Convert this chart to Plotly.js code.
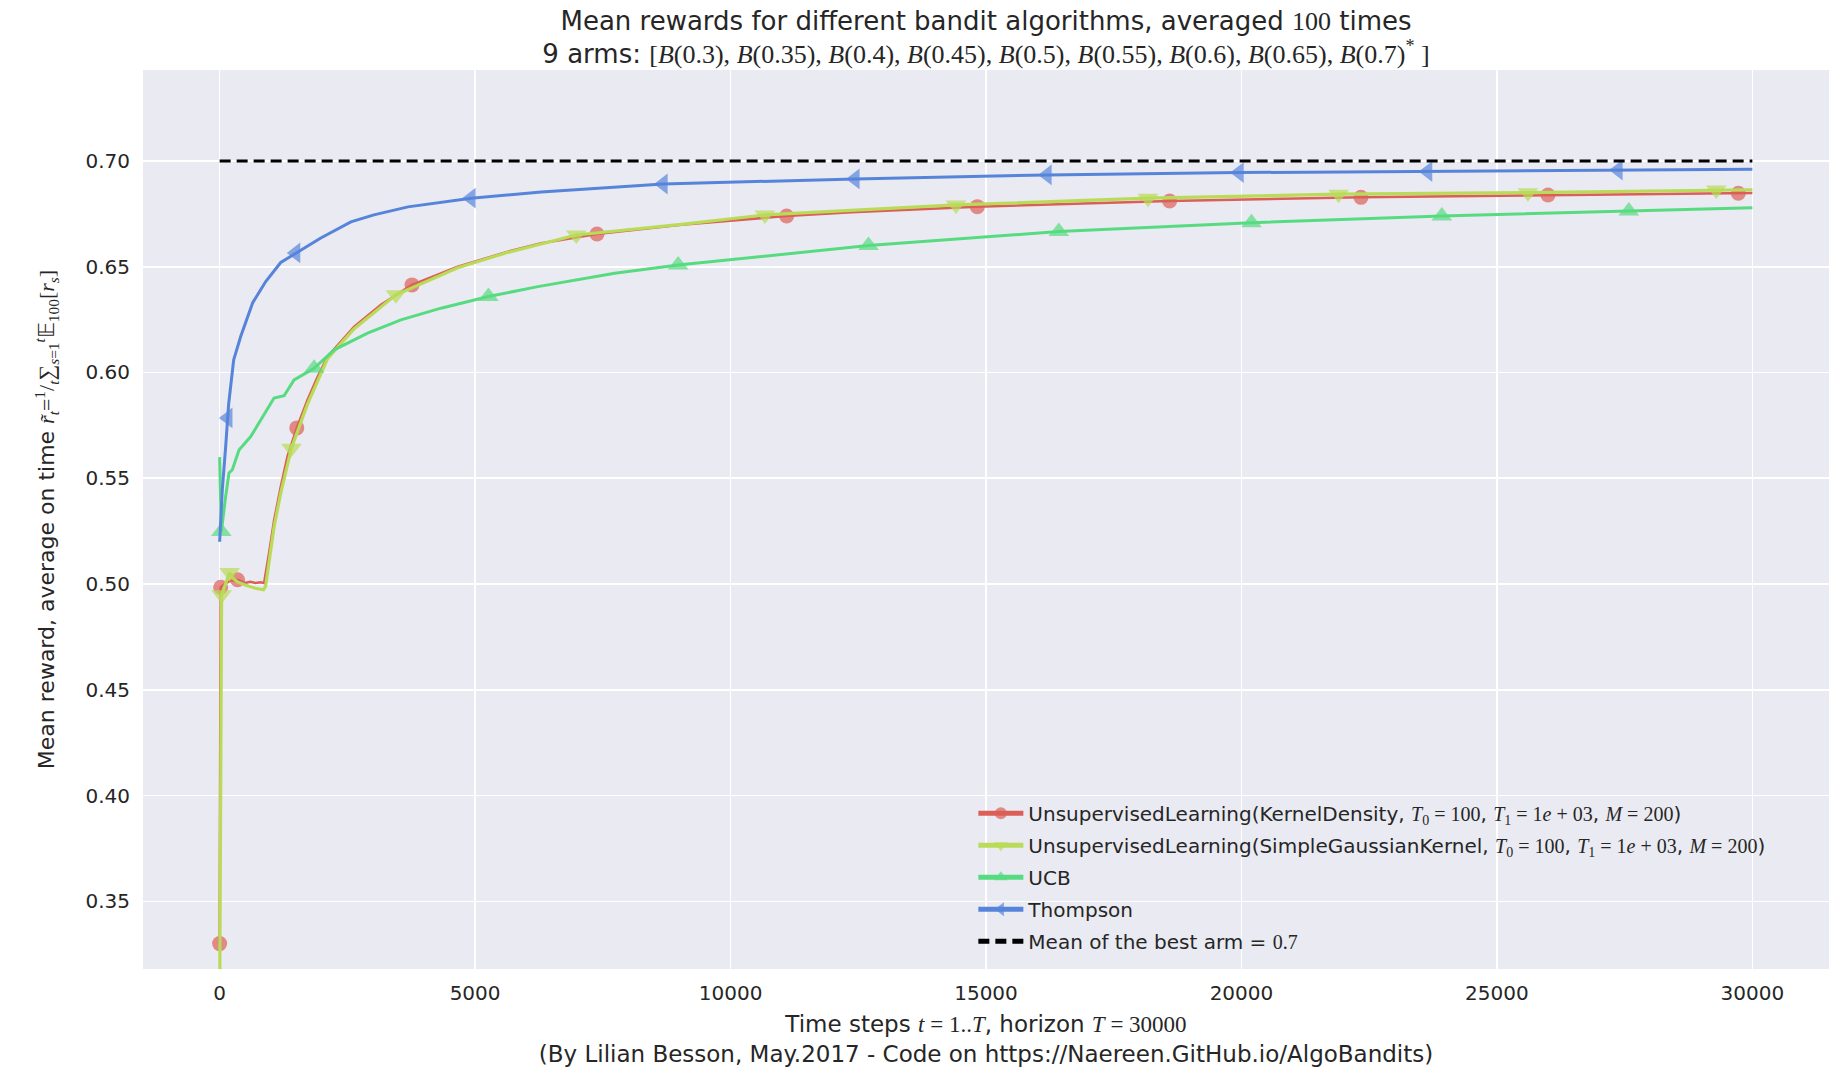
<!DOCTYPE html>
<html>
<head>
<meta charset="utf-8">
<script src="https://cdn.plot.ly/plotly-3.0.1.min.js"></script>
<style>html,body{margin:0;padding:0;background:#fff;}#chart{width:1841px;height:1076px;}</style>
</head>
<body>
<div id="chart"></div>
<script>
// ---- Data ----
// UnsupervisedLearning(KernelDensity)
const kdX = [0, 20, 100, 200, 350, 500, 600, 700, 800, 870, 970, 1065, 1196, 1327, 1510, 1719, 1900, 2111, 2634, 3157, 3765, 4660, 5641, 6294, 7386, 9039, 11098, 12373, 14830, 18594, 22339, 26000, 29725, 30000];
const kdY = [0.330, 0.4985, 0.500, 0.5015, 0.502, 0.5005, 0.501, 0.5005, 0.5008, 0.5005, 0.515, 0.530, 0.546, 0.5603, 0.5738, 0.587, 0.597, 0.6075, 0.6217, 0.632, 0.6414, 0.650, 0.6571, 0.6611, 0.6655, 0.6698, 0.674, 0.6758, 0.6784, 0.6811, 0.6828, 0.6839, 0.6847, 0.6849];
const kdMarkX = [0, 20, 350, 1510, 3765, 7386, 11098, 14830, 18594, 22339, 26000, 29725];

// UnsupervisedLearning(SimpleGaussianKernel)
const sgX = [0, 39, 196, 250, 350, 500, 700, 860, 900, 970, 1065, 1196, 1405, 1719, 1900, 2111, 2634, 3451, 4660, 5641, 6980, 9039, 10673, 12373, 14412, 18170, 21902, 25608, 29294, 30000];
const sgY = [0.300, 0.4949, 0.5054, 0.503, 0.501, 0.4995, 0.498, 0.4973, 0.499, 0.512, 0.527, 0.543, 0.5642, 0.585, 0.595, 0.6065, 0.6207, 0.6367, 0.6495, 0.6568, 0.665, 0.670, 0.6745, 0.6765, 0.6792, 0.6824, 0.6843, 0.685, 0.6863, 0.6864];
const sgMarkX = [39, 196, 1405, 3451, 6980, 10673, 14412, 18170, 21902, 25608, 29294];

// UCB
const ucbX = [0, 33, 118, 183, 249, 379, 608, 804, 1065, 1261, 1457, 1849, 2242, 2896, 3549, 4333, 4856, 5261, 6229, 7732, 8974, 12700, 16425, 20196, 23922, 27582, 30000];
const ucbY = [0.560, 0.5248, 0.5414, 0.5525, 0.554, 0.5634, 0.5697, 0.5776, 0.5879, 0.589, 0.5965, 0.602, 0.6107, 0.6186, 0.6249, 0.6304, 0.6335, 0.6359, 0.6406, 0.6469, 0.6508, 0.660, 0.6666, 0.6708, 0.674, 0.6764, 0.6779];
const ucbMarkX = [33, 1849, 5261, 8974, 12700, 16425, 20196, 23922, 27582];

// Thompson
const tsX = [0, 52, 118, 163, 176, 275, 412, 647, 902, 1196, 1490, 1980, 2569, 3020, 3686, 4333, 4922, 6294, 8680, 12437, 16196, 19955, 23647, 27373, 30000];
const tsY = [0.520, 0.5445, 0.565, 0.5785, 0.585, 0.606, 0.617, 0.633, 0.643, 0.652, 0.6565, 0.6636, 0.6712, 0.6745, 0.6783, 0.6806, 0.6824, 0.6853, 0.6891, 0.6915, 0.6934, 0.6945, 0.695, 0.6957, 0.6961];
const tsMarkX = [163, 1490, 4922, 8680, 12437, 16196, 19955, 23647, 27373];

// Best arm mean
const bestX = [0, 30000];
const bestY = [0.7, 0.7];

const xTicks = [0, 5000, 10000, 15000, 20000, 25000, 30000];
const yTicks = [0.35, 0.40, 0.45, 0.50, 0.55, 0.60, 0.65, 0.70];

// ---- Styling ----
const M = 'font-family:\'Liberation Serif\', serif';
const math = (s, size) => `<span style="${M}${size ? ';font-size:' + size + 'px' : ''}">${s}</span>`;
const TXT = '#262626';
const FONT = 'DejaVu Sans, sans-serif';

function series(x, y, markX, name, color, symbol, width, msize) {
  const sizes = x.map(v => markX.indexOf(v) >= 0 ? msize : 0);
  return {
    x: x, y: y, name: name, type: 'scatter', mode: 'lines+markers',
    line: {color: color, width: width},
    marker: {color: color, symbol: symbol, size: sizes, line: {width: 0}},
    legendgroup: name, cliponaxis: true
  };
}

const T0 = math('<i>T</i><sub>0</sub> = 100');
const T1 = math('<i>T</i><sub>1</sub> = 1<i>e</i> + 03');
const MM = math('<i>M</i> = 200');

const traces = [
  series(kdX, kdY, kdMarkX, `UnsupervisedLearning(KernelDensity, ${T0}, ${T1}, ${MM})`, '#db5f57', 'circle', 2.5, 15),
  series(sgX, sgY, sgMarkX, `UnsupervisedLearning(SimpleGaussianKernel, ${T0}, ${T1}, ${MM})`, '#b9db57', 'triangle-down', 3.2, 18),
  series(ucbX, ucbY, ucbMarkX, 'UCB', '#57db80', 'triangle-up', 3, 18),
  series(tsX, tsY, tsMarkX, 'Thompson', '#5784db', 'triangle-left', 3, 18),
  {x: bestX, y: bestY, name: 'Mean of the best arm = ' + math('0.7'), type: 'scatter', mode: 'lines',
   line: {color: '#000000', width: 3, dash: '11px,6px'}, legendgroup: 'best'}
];

const Bs = ['0.3','0.35','0.4','0.45','0.5','0.55','0.6','0.65','0.7'];
const armsTxt = math('[' + Bs.map((b, i) => `<i>B</i>(${b})` + (i === Bs.length - 1 ? '<sup>*</sup>' : '')).join(', ') + ' ]');

const layout = {
  width: 1841, height: 1076,
  paper_bgcolor: '#ffffff', plot_bgcolor: '#eaeaf2',
  font: {family: FONT, size: 20, color: TXT},
  margin: {l: 143, r: 12, t: 70, b: 107},
  showlegend: true,
  title: {
    text: 'Mean rewards for different bandit algorithms, averaged ' + math('100') + ' times<br>9 arms: ' + armsTxt,
    font: {family: FONT, size: 26, color: TXT},
    x: 0.5, xref: 'paper', xanchor: 'center', y: 0.9725, yanchor: 'middle', yref: 'container'
  },
  xaxis: {
    range: [-1500, 31500], tickvals: xTicks, ticktext: xTicks.map(String),
    showgrid: true, gridcolor: '#ffffff', gridwidth: 1.6, zeroline: false,
    showline: false, ticks: '', tickfont: {size: 20, color: TXT}, ticklabelstandoff: 10,
    title: {text: 'Time steps ' + math('<i>t</i> = 1..<i>T</i>') + ', horizon ' + math('<i>T</i> = 30000') +
      '<br>(By Lilian Besson, May.2017 - Code on https://Naereen.GitHub.io/AlgoBandits)',
      font: {size: 23, color: TXT}, standoff: 11}
  },
  yaxis: {
    range: [0.318, 0.743], tickvals: yTicks, ticktext: yTicks.map(v => v.toFixed(2)),
    showgrid: true, gridcolor: '#ffffff', gridwidth: 1.6, zeroline: false,
    showline: false, ticks: '', tickfont: {size: 20, color: TXT}, ticklabelstandoff: 12,
    title: {text: 'Mean reward, average on time ' +
      math('<i>r̃</i><sub><i>t</i></sub>=<sup>1</sup>/<sub><i>t</i></sub>&#8721;<sub><i>s</i>=1</sub><sup><i>t</i></sup>&#120124;<sub>100</sub>[<i>r</i><sub><i>s</i></sub>]', 22),
      font: {size: 22, color: TXT}, standoff: 24}
  },
  legend: {
    x: 0.4925, xanchor: 'left', y: 0.195, yanchor: 'top',
    bgcolor: 'rgba(0,0,0,0)', borderwidth: 0,
    font: {size: 20, color: TXT}, tracegroupgap: 3, itemsizing: 'constant', itemwidth: 45
  }
};

Plotly.newPlot('chart', traces, layout, {staticPlot: true, displayModeBar: false});
</script>
</body>
</html>
